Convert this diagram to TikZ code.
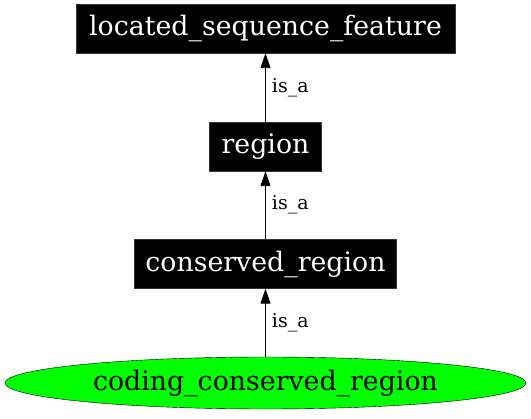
\documentclass[tikz,border=0pt]{standalone}
\usepackage{fontspec}
\setmainfont{DejaVu Serif}
\usetikzlibrary{shapes.geometric,arrows.meta}
\begin{document}
\begin{tikzpicture}[x=1pt,y=-1pt,
  termbox/.style={draw=black!80, fill=black, text=white, minimum height=49pt, inner sep=0pt, font=\fontsize{26.8}{30}\selectfont},
  leaf/.style={ellipse, draw=black, fill=green, minimum width=521pt, minimum height=52pt, inner sep=0pt, font=\fontsize{26.8}{30}\selectfont},
  isa/.style={draw=black, line width=0.9pt, -{Triangle[length=15pt,width=10pt]}},
  elabel/.style={font=\fontsize{19}{22}\selectfont, anchor=west, inner sep=0pt}]
\useasboundingbox (0,0) rectangle (531,419);
\node[termbox, minimum width=379pt] (lsf) at (265.5,28.5) {located\_sequence\_feature};
\node[termbox, minimum width=112pt] (reg) at (265.5,146.5) {region};
\node[termbox, minimum width=262pt] (cons) at (265.5,264) {conserved\_region};
\node[leaf] (ccr) at (265.5,383) {coding\_conserved\_region};
\draw[isa] (reg) -- node[elabel, xshift=6pt] {is\_a} (lsf);
\draw[isa] (cons) -- node[elabel, xshift=6pt] {is\_a} (reg);
\draw[isa] (ccr) -- node[elabel, xshift=6pt] {is\_a} (cons);
\end{tikzpicture}
\end{document}
